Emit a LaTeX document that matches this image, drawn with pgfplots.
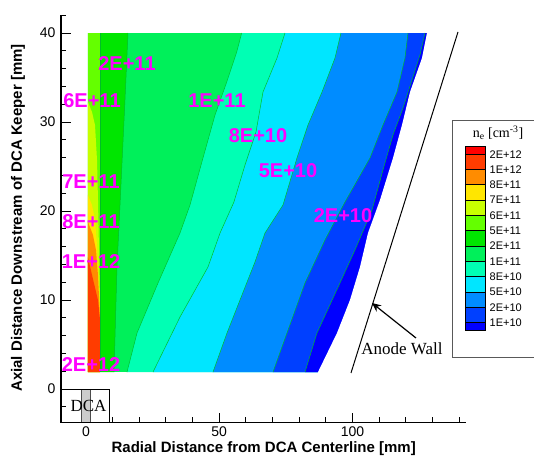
\documentclass[border=0pt]{standalone}
\usepackage{fontspec}
\setmainfont{Liberation Sans}
\newfontfamily\serif{Liberation Serif}
\usepackage{pgfplots}
\pgfplotsset{compat=1.18}
\usetikzlibrary{arrows.meta}

\definecolor{cR}{RGB}{255,0,0}
\definecolor{cOR}{RGB}{255,60,0}
\definecolor{cO}{RGB}{255,140,0}
\definecolor{cY}{RGB}{255,230,0}
\definecolor{cYG}{RGB}{200,255,0}
\definecolor{cCh}{RGB}{100,255,0}
\definecolor{cG}{RGB}{0,230,0}
\definecolor{cLG}{RGB}{0,240,90}
\definecolor{cAq}{RGB}{0,255,180}
\definecolor{cCy}{RGB}{0,230,255}
\definecolor{cAz}{RGB}{0,140,255}
\definecolor{cB}{RGB}{0,64,255}
\definecolor{cPB}{RGB}{0,0,255}
\definecolor{cLine}{RGB}{0,190,40}
\definecolor{cMag}{RGB}{255,0,255}

\begin{document}
\begin{tikzpicture}
\begin{axis}[
  x=2.665pt, y=8.9pt,
  xmin=-9.4, xmax=142.6, ymin=-3.8, ymax=42,
  axis x line*=bottom, axis y line*=left,
  axis line style={line width=1.2pt},
  xtick={0,50,100}, ytick={0,10,20,30,40},
  minor xtick={10,20,30,40,60,70,80,90,110,120,130,140},
  minor ytick={-2,2,4,6,8,12,14,16,18,22,24,26,28,32,34,36,38,42},
  tick align=inside,
  major tick length=10pt, minor tick length=5.5pt,
  every tick/.style={black, line width=1pt},
  tick label style={font=\fontsize{14}{16}\selectfont},
  /pgf/number format/assume math mode=true,
  yticklabel style={xshift=-2pt},
  clip=false,
]
% full field (1E+11 level)
\addplot[fill=cLG, draw=none] coordinates {(0.75,1.9) (0.75,40) (133,40) (133,1.9)} --cycle;
% 8E+10
\addplot[fill=cAq, draw=none] coordinates {(58.42,40) (56.55,37.87) (52.80,34.49) (48.41,30.79) (43.90,25.96) (39.02,20.67) (35.27,17.53) (27.02,11.91) (19.14,6.29) (15.38,1.9) (133,1.9) (133,40)} --cycle;
% 5E+10
\addplot[fill=cCy, draw=none] coordinates {(74.67,40) (71.67,37.19) (66.42,33.37) (63.79,28.88) (59.66,25.17) (55.5,21.0) (50.3,17.53) (45.78,13.71) (35.27,8.09) (25.14,1.9) (133,1.9) (133,40)} --cycle;
% 2E+10
\addplot[fill=cAz, draw=none] coordinates {(95.68,40) (93.43,37.19) (88.56,33.37) (83.30,29.66) (79.17,25.96) (73.92,20.67) (67.17,17.53) (63.41,14.27) (57.79,10.0) (52.91,6.29) (47.65,1.9) (133,1.9) (133,40)} --cycle;
% 1E+10
\addplot[fill=cB, draw=none] coordinates {(120.83,40) (119.70,37.19) (116.70,33.37) (111.44,29.66) (106.57,25.96) (97.19,21.01) (89.68,16.74) (82.18,11.91) (75.42,6.29) (70.17,1.9) (133,1.9) (133,40)} --cycle;
% below 1E+10
\addplot[fill=cPB, draw=none] coordinates {(127.20,40) (125.33,37.53) (122.33,34.72) (118.95,31.57) (115.20,28.54) (111.44,24.61) (107.32,20.11) (100.94,15.62) (95.31,11.91) (86.68,6.29) (82.18,1.9) (133,1.9) (133,40)} --cycle;
% edge of computed domain
\addplot[fill=white, draw=none] coordinates {(127.95,40.3) (127.95,40) (126.08,37.19) (121.58,33.37) (118.57,29.66) (115.20,25.96) (110.32,21.24) (105.82,17.53) (102.81,13.71) (99.06,10.0) (94.18,6.29) (87.05,1.9) (87.05,1.7) (134,1.7) (134,40.3)} --cycle;
% 2E+11
\addplot[fill=cG, draw=none] coordinates {(0.75,40) (15.76,40) (14.63,32.47) (12.76,20.67) (11.63,13.71) (10.51,1.9) (0.75,1.9)} --cycle;
% 5E+11
\addplot[fill=cCh, draw=none] coordinates {(0.75,40) (5.52,40) (5.52,1.9) (0.75,1.9)} --cycle;
% 6E+11
\addplot[fill=cYG, draw=none] coordinates {(0.75,32.25) (2.25,31.12) (3.38,29.66) (4.13,25.73) (4.5,21.24) (4.88,15.62) (5.25,10) (5.25,1.9) (0.75,1.9)} --cycle;
% 7E+11
\addplot[fill=cY, draw=none] coordinates {(0.75,21.8) (2.25,20.67) (3.38,19.0) (4.13,16.18) (4.88,11.12) (5.25,8.88) (5.25,1.9) (0.75,1.9)} --cycle;
% 8E+11
\addplot[fill=cO, draw=none] coordinates {(0.75,18.76) (2.63,17.3) (3.75,15.62) (4.5,12.8) (5.1,9.0) (5.2,1.9) (0.75,1.9)} --cycle;
% 1E+12
\addplot[fill=cOR, draw=none] coordinates {(0.75,14.8) (2.5,12.5) (4.5,10.0) (5.2,8.0) (5.2,1.9) (0.75,1.9)} --cycle;
% contour lines
\addplot[cLine, line width=0.5pt] coordinates {(5.52,40) (5.52,1.9)};
\addplot[cLine, line width=0.5pt] coordinates {(15.76,40) (14.63,32.47) (12.76,20.67) (11.63,13.71) (10.51,1.9)};
\addplot[cLine, line width=0.5pt] coordinates {(58.42,40) (56.55,37.87) (52.80,34.49) (48.41,30.79) (43.90,25.96) (39.02,20.67) (35.27,17.53) (27.02,11.91) (19.14,6.29) (15.38,1.9)};
\addplot[cLine, line width=0.5pt] coordinates {(74.67,40) (71.67,37.19) (66.42,33.37) (63.79,28.88) (59.66,25.17) (55.5,21.0) (50.3,17.53) (45.78,13.71) (35.27,8.09) (25.14,1.9)};
\addplot[cLine, line width=0.5pt] coordinates {(95.68,40) (93.43,37.19) (88.56,33.37) (83.30,29.66) (79.17,25.96) (73.92,20.67) (67.17,17.53) (63.41,14.27) (57.79,10.0) (52.91,6.29) (47.65,1.9)};
\addplot[cLine, line width=0.5pt] coordinates {(120.83,40) (119.70,37.19) (116.70,33.37) (111.44,29.66) (106.57,25.96) (97.19,21.01) (89.68,16.74) (82.18,11.91) (75.42,6.29) (70.17,1.9)};
\addplot[cLine, line width=0.5pt] coordinates {(127.20,40) (125.33,37.53) (122.33,34.72) (118.95,31.57) (115.20,28.54) (111.44,24.61) (107.32,20.11) (100.94,15.62) (95.31,11.91) (86.68,6.29) (82.18,1.9)};
% DCA box
\fill[gray!40] (axis cs:-1.7,0) rectangle (axis cs:1.8,-3.8);
\draw[gray!60!black, line width=0.6pt] (axis cs:-1.7,0) -- (axis cs:-1.7,-3.8) (axis cs:1.8,0) -- (axis cs:1.8,-3.8);
\draw[line width=1pt] (axis cs:-9.4,0) rectangle (axis cs:9,-3.8);
\coordinate (O) at (axis cs:-32.27,43.71);
\coordinate (E) at (axis cs:168.11,-7.528);
\end{axis}
\pgfresetboundingbox
\useasboundingbox (O) rectangle (E);
\begin{scope}[shift={(O)}, x=1pt, y=-1pt]
  % DCA text
  \node[font=\serif\fontsize{17}{18}\selectfont, inner sep=0pt] at (88.5,406) {DCA};
  % axis titles
  \node[font=\bfseries\fontsize{15}{17}\selectfont, inner sep=0pt] at (263.7,448.5) {Radial Distance from DCA Centerline [mm]};
  \node[font=\bfseries\fontsize{15}{17}\selectfont, inner sep=0pt, rotate=90] at (18,218) {Axial Distance Downstream of DCA Keeper [mm]};
  % contour labels
  \begin{scope}[every node/.style={font=\bfseries\fontsize{20}{22}\selectfont, text=cMag, inner sep=0pt}]
    \node at (127,64) {2E+11};
    \node at (92,101) {6E+11};
    \node at (217,101) {1E+11};
    \node at (258,136) {8E+10};
    \node at (288,171) {5E+10};
    \node at (343,216) {2E+10};
    \node at (91,182) {7E+11};
    \node at (91,222) {8E+11};
    \node at (91,262) {1E+12};
    \node at (91,365) {2E+12};
  \end{scope}
  % anode wall
  \draw[line width=1pt] (458,32) -- (351,373);
  \draw[line width=1.2pt, -{Stealth[length=9pt, width=8pt]}] (416,338) -- (372,303);
  \node[font=\serif\fontsize{17}{18}\selectfont, inner sep=0pt] at (402,349) {Anode Wall};
  % legend
  \draw[black!65, line width=0.8pt] (452,120) rectangle (536,357);
  \node[font=\serif\fontsize{14}{16}\selectfont, inner sep=0pt] at (498,133) {n\textsubscript{e} [cm\textsuperscript{-3}]};
  \foreach \ya/\yb/\c in {146.7/154.3/cR, 154.3/169.6/cOR, 169.6/184.9/cO, 184.9/200.2/cY, 200.2/215.5/cYG, 215.5/230.8/cCh, 230.8/246.1/cG, 246.1/261.4/cLG, 261.4/276.7/cAq, 276.7/292.0/cCy, 292.0/307.3/cAz, 307.3/322.6/cB, 322.6/330.7/cPB}
    {\fill[\c] (465,\ya) rectangle (485,\yb);}
  \foreach \yy/\t in {154.3/2E+12, 169.6/1E+12, 184.9/8E+11, 200.2/7E+11, 215.5/6E+11, 230.8/5E+11, 246.1/2E+11, 261.4/1E+11, 276.7/8E+10, 292.0/5E+10, 307.3/2E+10, 322.6/1E+10}
    {\draw[line width=0.8pt] (465,\yy) -- (485,\yy);
     \node[anchor=west, font=\fontsize{11}{12}\selectfont, inner sep=0pt] at (489.5,\yy) {\t};}
  \draw[line width=0.8pt] (465,146.7) rectangle (485,330.7);
\end{scope}
\end{tikzpicture}
\end{document}
